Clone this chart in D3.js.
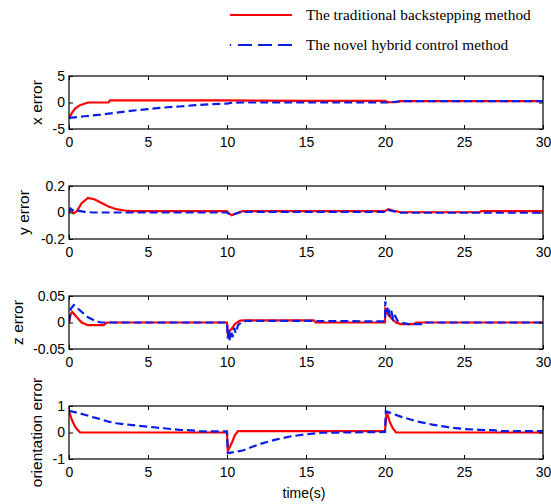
<!DOCTYPE html>
<html><head><meta charset="utf-8">
<script src="https://cdn.jsdelivr.net/npm/d3@7"></script>
<style>body{margin:0;background:#fff}svg{display:block}</style>
</head><body><svg id="c" width="551" height="504"></svg>
<script>
const seriesNames = ["The traditional backstepping method", "The novel hybrid control method"];
const xTicks = [0, 5, 10, 15, 20, 25, 30];
const panelLabels = ["x error", "y error", "z error", "orientation error"];
const yDomains = [[-5, 5], [-0.2, 0.2], [-0.05, 0.05], [-1, 1]];
const yTickValues = [[-5, 0, 5], [-0.2, 0, 0.2], [-0.05, 0, 0.05], [-1, 0, 1]];
const yTickLabels = [["-5", "0", "5"], ["-0.2", "0", "0.2"], ["-0.05", "0", "0.05"], ["-1", "0", "1"]];

// [time, value]
const xErrTrad = [[0,-3],[0.2,-1.9],[0.4,-1.1],[0.7,-0.5],[1.2,0],[2.5,0],[2.6,0.4],[10,0.4],[15,0.3],[20,0.3],[20.2,0.05],[20.7,0.05],[21,0.25],[30,0.25]];
const xErrHybrid = [[0,-2.9],[1,-2.6],[2,-2.3],[3,-1.9],[4,-1.55],[5,-1.25],[6,-0.95],[7,-0.75],[8,-0.5],[9,-0.3],[10,-0.2],[10.3,-0.05],[11,0],[20,0],[20.5,0.1],[21,0.25],[30,0.25]];
const yErrTrad = [[0,0.02],[0.15,0.01],[0.3,-0.006],[0.5,0.01],[0.8,0.07],[1.2,0.11],[1.6,0.1],[2,0.075],[2.5,0.045],[3,0.025],[3.5,0.015],[4,0.01],[10,0.01],[10.1,-0.005],[10.3,-0.02],[10.6,-0.005],[11,0.01],[20,0.01],[20.2,0.025],[20.5,0.015],[21,0.002],[26,0.002],[26.1,0.01],[30,0.01]];
const yErrHybrid = [[0,0],[0.1,0.03],[0.2,0.02],[0.5,0.015],[1,0.005],[1.5,0],[10,0],[10.1,-0.01],[10.4,-0.015],[10.8,0],[11,0.005],[20,0.005],[20.2,0.02],[20.5,0.01],[21,-0.002],[30,-0.002]];
const zErrTrad = [[0,0],[0.1,0.015],[0.2,0.02],[0.5,0.01],[0.8,0],[1.2,-0.005],[2.2,-0.005],[2.4,0],[10,0],[10.05,-0.02],[10.3,-0.012],[10.5,-0.003],[10.8,0.003],[11,0.004],[15.5,0.004],[15.6,0],[20,0],[20.02,0.025],[20.2,0.015],[20.4,0.008],[20.7,0],[21,-0.003],[21.8,-0.003],[22,0],[30,0]];
const zErrHybrid = [[0,0],[0.1,0.025],[0.3,0.033],[0.5,0.028],[0.8,0.02],[1.2,0.01],[1.6,0.004],[2,0],[10,0],[10.05,-0.03],[10.1,-0.012],[10.15,-0.035],[10.25,-0.015],[10.35,-0.028],[10.45,-0.01],[10.55,-0.02],[10.7,-0.005],[10.9,0],[11.2,0.003],[15,0.003],[20,0.002],[20.02,0.04],[20.1,0.02],[20.2,0.03],[20.3,0.012],[20.4,0.022],[20.5,0.008],[20.6,0.015],[20.8,0.003],[21,0],[21.5,-0.003],[22.5,-0.003],[22.6,0],[30,0]];
const oriErrTrad = [[0,0.8],[0.2,0.45],[0.4,0.2],[0.7,0],[10,0],[10.05,-0.7],[10.3,-0.4],[10.5,-0.1],[10.7,0.05],[20,0.05],[20.1,0.8],[20.3,0.4],[20.5,0.15],[20.7,0],[30,0]];
const oriErrHybrid = [[0,0.82],[0.5,0.75],[1,0.67],[1.5,0.58],[2,0.5],[2.5,0.41],[3,0.35],[4,0.28],[5,0.22],[6,0.16],[7,0.1],[8,0.07],[8.1,0.04],[10,0.04],[10.05,-0.78],[11,-0.68],[12,-0.45],[13,-0.28],[14,-0.15],[15,-0.07],[16,-0.01],[20,0.02],[20.05,0.8],[21,0.6],[22,0.42],[23,0.3],[24,0.2],[25,0.13],[26,0.1],[27,0.08],[27.1,0.05],[30,0.05]];

const tradSeries = [xErrTrad, yErrTrad, zErrTrad, oriErrTrad];
const hybridSeries = [xErrHybrid, yErrHybrid, zErrHybrid, oriErrHybrid];

const svg = d3.select("#c");
const left = 69, right = 543, ph = 53;
const tops = [76, 186, 296, 406];
const labelX = [42, 29, 22.5, 42];
const x = d3.scaleLinear().domain([0, 30]).range([left, right]);
const RED = "#ff0000", BLUE = "#0a1ee6";
const font = "Liberation Sans, Arial, sans-serif";

tops.forEach((top, i) => {
  const y = d3.scaleLinear().domain(yDomains[i]).range([top + ph, top]);
  const g = svg.append("g");
  const clipId = "clip" + i;
  svg.append("clipPath").attr("id", clipId).append("rect")
    .attr("x", left).attr("y", top - 1).attr("width", right - left).attr("height", ph + 2);
  const line = d3.line().x(d => x(d[0])).y(d => y(d[1]));
  const lg = g.append("g").attr("clip-path", `url(#${clipId})`);
  lg.append("path").datum(tradSeries[i]).attr("d", line)
    .attr("fill", "none").attr("stroke", RED).attr("stroke-width", 2.2);
  lg.append("path").datum(hybridSeries[i]).attr("d", line)
    .attr("fill", "none").attr("stroke", BLUE).attr("stroke-width", 2.2)
    .attr("stroke-dasharray", "8,4");

  const bottomAx = d3.axisBottom(x).tickValues(xTicks).tickSizeInner(-4).tickSizeOuter(0).tickPadding(8).tickFormat(d3.format("d"));
  const topAx = d3.axisTop(x).tickValues(xTicks).tickSizeInner(-4).tickSizeOuter(0).tickFormat("");
  const leftAx = d3.axisLeft(y).tickValues(yTickValues[i]).tickSizeInner(-4).tickSizeOuter(0).tickPadding(4).tickFormat((d, k) => yTickLabels[i][k]);
  const rightAx = d3.axisRight(y).tickValues(yTickValues[i]).tickSizeInner(-4).tickSizeOuter(0).tickFormat("");
  const style = s => { s.select(".domain").remove(); s.selectAll("line").attr("stroke", "#000"); s.selectAll("text").attr("font-family", font).attr("font-size", 14).attr("fill", "#000"); };
  g.append("g").attr("transform", `translate(0,${top + ph})`).call(bottomAx).call(style);
  g.append("g").attr("transform", `translate(0,${top})`).call(topAx).call(style);
  g.append("g").attr("transform", `translate(${left},0)`).call(leftAx).call(style);
  g.append("g").attr("transform", `translate(${right},0)`).call(rightAx).call(style);
  g.append("rect").attr("x", left).attr("y", top).attr("width", right - left).attr("height", ph)
    .attr("fill", "none").attr("stroke", "#000").attr("stroke-width", 1.2);

  g.append("text").attr("transform", `translate(${labelX[i]},${top + ph / 2}) rotate(-90)`)
    .attr("text-anchor", "middle").attr("font-family", font).attr("font-size", 15.5).text(panelLabels[i]);
});

svg.append("text").attr("x", 304).attr("y", 498).attr("text-anchor", "middle")
  .attr("font-family", font).attr("font-size", 14).text("time(s)");

// legend
const leg = svg.append("g");
const serif = "Liberation Serif, Times New Roman, serif";
leg.append("line").attr("x1", 230).attr("x2", 292).attr("y1", 15).attr("y2", 15).attr("stroke", RED).attr("stroke-width", 2);
leg.append("text").attr("x", 306).attr("y", 20).attr("font-family", serif).attr("font-size", 15.3).text(seriesNames[0]);
leg.append("circle").attr("cx", 230.5).attr("cy", 45).attr("r", 0.9).attr("fill", BLUE);
leg.append("line").attr("x1", 238).attr("x2", 292).attr("y1", 45).attr("y2", 45).attr("stroke", BLUE).attr("stroke-width", 2).attr("stroke-dasharray", "14,6");
leg.append("text").attr("x", 306).attr("y", 50).attr("font-family", serif).attr("font-size", 15.3).text(seriesNames[1]);
</script></body></html>
